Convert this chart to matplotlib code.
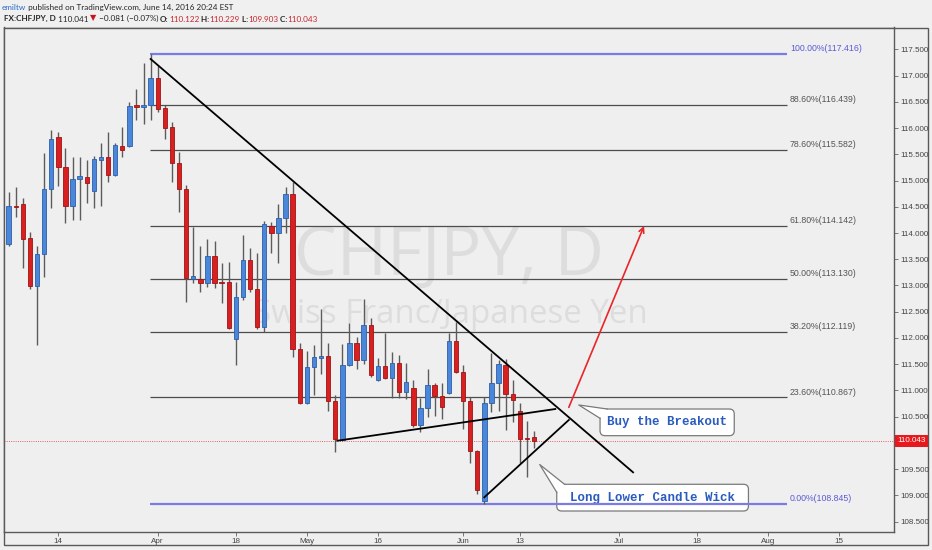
import matplotlib
matplotlib.use('Agg')
import matplotlib.pyplot as plt
import numpy as np
import pandas as pd
from matplotlib.patches import FancyBboxPatch, Polygon, Rectangle

# ---------------- data ----------------
start_date = '2016-03-03'
opens = [113.785, 114.52, 114.553, 113.899, 112.997, 113.594, 114.832, 115.823, 115.252, 114.521,
         115.023, 115.074, 114.807, 115.391, 115.455, 115.106, 115.664, 115.658, 116.43, 116.401,
         116.445, 116.960, 116.376, 116.014, 115.328, 114.832, 113.131, 113.118, 113.042, 113.563,
         113.06, 113.061, 111.975, 112.788, 113.486, 112.927, 112.204, 114.134, 113.994, 114.293,
         114.737, 111.790, 110.755, 111.454, 111.625, 111.663, 110.806, 110.057, 111.479, 111.911,
         111.581, 112.241, 111.200, 111.467, 111.244, 111.530, 110.965, 111.041, 110.343, 110.667,
         111.098, 110.895, 110.946, 111.943, 111.352, 110.806, 109.854, 108.901, 110.755, 111.136,
         111.486, 110.933, 110.616, 110.09, 110.122]
highs = [114.775, 114.87, 114.661, 114.026, 113.753, 115.518, 115.963, 115.918, 115.626, 115.455,
         115.455, 115.391, 115.468, 115.709, 115.918, 115.709, 116.014, 116.503, 116.750, 117.233,
         117.416, 117.182, 116.439, 116.122, 115.550, 114.915, 114.121, 113.753, 113.880, 113.855,
         113.423, 113.442, 113.061, 113.962, 113.709, 113.613, 114.236, 114.216, 114.553, 114.883,
         114.979, 111.911, 111.752, 111.867, 112.546, 111.911, 110.914, 111.879, 112.279, 112.025,
         112.737, 112.375, 111.613, 112.089, 111.740, 111.676, 111.517, 111.200, 110.851, 111.403,
         111.136, 111.136, 112.102, 112.298, 111.486, 110.882, 109.87, 110.882, 111.708, 111.581,
         111.600, 111.200, 110.768, 110.419, 110.229]
lows = [113.75, 114.30, 113.327, 112.927, 111.867, 113.169, 114.483, 114.902, 114.185, 114.248,
        114.248, 114.566, 114.483, 114.521, 114.979, 115.093, 115.455, 115.645, 116.153, 116.071,
        116.153, 116.312, 115.785, 114.979, 114.407, 112.692, 113.042, 112.870, 112.978, 112.946,
        112.661, 112.18, 111.485, 112.724, 112.883, 112.18, 112.121, 113.626, 113.423, 113.994,
        111.632, 110.743, 110.743, 110.914, 111.308, 110.616, 109.822, 110.044, 111.467, 111.403,
        111.505, 111.263, 111.187, 111.219, 110.863, 110.851, 110.838, 110.311, 110.203, 110.501,
        110.514, 110.451, 110.933, 111.340, 110.260, 109.625, 109.022, 108.845, 110.597, 110.616,
        110.247, 110.393, 109.612, 109.358, 109.903]
closes = [114.521, 114.50, 113.886, 112.997, 113.600, 114.832, 115.785, 115.252, 114.521, 115.029,
          115.087, 114.947, 115.404, 115.455, 115.106, 115.671, 115.582, 116.426, 116.41, 116.439,
          116.960, 116.357, 116.007, 115.328, 114.832, 113.137, 113.182, 113.042, 113.563, 113.042,
          113.05, 112.197, 112.788, 113.486, 112.927, 112.204, 114.166, 113.994, 114.293, 114.737,
          111.784, 110.755, 111.454, 111.632, 111.663, 110.806, 110.069, 111.479, 111.911, 111.581,
          112.241, 111.289, 111.467, 111.244, 111.530, 110.965, 111.162, 110.343, 110.667, 111.098,
          110.895, 110.679, 111.937, 111.352, 110.806, 109.854, 109.104, 110.755, 111.136, 111.498,
          110.933, 110.819, 110.082, 110.08, 110.043]

fib_pcts = ['100.00%', '88.60%', '78.60%', '61.80%', '50.00%', '38.20%', '23.60%', '0.00%']
fib_levels = [117.416, 116.439, 115.582, 114.142, 113.130, 112.119, 110.867, 108.845]
fib_start_end = [19.9, 109.6]

last_price = 110.043

tick_dates = ['2016-03-14', '2016-04-01', '2016-04-18', '2016-05-02', '2016-05-16', '2016-06-01',
              '2016-06-13', '2016-07-01', '2016-07-18', '2016-08-01', '2016-08-15']
tick_labels = ['14', 'Apr', '18', 'May', '16', 'Jun', '13', 'Jul', '18', 'Aug', '15']
price_ticks = [108.5, 109.0, 109.5, 110.5, 111.0, 111.5, 112.0, 112.5, 113.0, 113.5,
               114.0, 114.5, 115.0, 115.5, 116.0, 116.5, 117.0, 117.5]

down_trend_x = [20.0, 87.95]
down_trend_y = [117.315, 109.441]
support_x = [46.3, 77.0]
support_y = [110.043, 110.647]
rise_x = [67.0, 78.9]
rise_y = [108.965, 110.438]
arrow_x = [78.9, 89.5]
arrow_y = [110.679, 114.134]

# ---------------- figure ----------------
W, H = 932, 550
BG = '#f0f0f0'
fig = plt.figure(figsize=(W / 100, H / 100), dpi=100)
fig.patch.set_facecolor(BG)

L, R, T, B = 3.5, 894, 27.5, 532
ax = fig.add_axes([L / W, 1 - B / H, (R - L) / W, (B - T) / H])
ax.set_facecolor('#efefef')
ax.set_xlim(-0.72, 124.7)
ax.set_ylim(108.304, 117.915)
ASPECT = ((117.915 - 108.304) / (B - T)) / ((124.7 + 0.72) / (R - L))

# outer frame
fig.add_artist(Rectangle((3.5 / W, 1 - 545 / H), (928 - 3.5) / W, (545 - 27.5) / H,
                         transform=fig.transFigure, fill=True, fc='#efefef', ec='#5a5a5a',
                         lw=1.0, zorder=-5))

for sp in ax.spines.values():
    sp.set_color('#5a5a5a')
    sp.set_linewidth(1.0)

# watermark
ax.text(0.5003, 0.544, 'CHFJPY, D', transform=ax.transAxes, ha='center', va='center',
        fontsize=49, color='#dddddd', family='Open Sans', zorder=1)
ax.text(0.502, 0.431, 'Swiss Franc/Japanese Yen', transform=ax.transAxes, ha='center', va='center',
        fontsize=23.8, color='#dddddd', family='Open Sans', zorder=1)

# candles
o = np.array(opens); h = np.array(highs); lo = np.array(lows); c = np.array(closes)
x = np.arange(len(o))
up = c > o
fill = np.where(up, '#4a86d9', '#d92020')
edge = np.where(up, '#2d5fa8', '#a01414')
ax.vlines(x, lo, h, color='#5c5c5c', lw=1.0, zorder=3)
ax.bar(x, np.maximum(np.abs(c - o), 0.014), bottom=np.minimum(o, c), width=0.62,
       color=fill, edgecolor=edge, linewidth=0.6, zorder=4)

# fib levels
for pct, lv in zip(fib_pcts, fib_levels):
    edge_lv = pct in ('100.00%', '0.00%')
    col = '#7b7be6' if edge_lv else '#4d4d4d'
    ax.plot(fib_start_end, [lv, lv], color=col, lw=1.6 if edge_lv else 0.9, zorder=2.6,
            solid_capstyle='butt')
    ax.text(fib_start_end[1] + 0.45, lv + 0.012, f'{pct}({lv:.3f})', fontsize=6.3,
            color='#5b5bd6' if edge_lv else '#555555', va='bottom', ha='left',
            family='Liberation Sans', zorder=2.6)

# current price line
ax.axhline(last_price, color='#e06060', lw=0.7, ls=(0, (1, 1.3)), zorder=2.5)

# trend lines
ax.plot(down_trend_x, down_trend_y, color='black', lw=1.3, zorder=5)
ax.plot(support_x, support_y, color='black', lw=1.3, zorder=5)
ax.plot(rise_x, rise_y, color='black', lw=1.3, zorder=5)
ax.annotate('', xy=(arrow_x[1], arrow_y[1]), xytext=(arrow_x[0], arrow_y[0]),
            arrowprops=dict(arrowstyle='->', color='#e8262a', lw=1.2, shrinkA=0, shrinkB=0,
                            mutation_scale=9), zorder=5)


# callouts
def callout(x0, x1, y0, y1, tip, b1, b2, text):
    ax.add_patch(FancyBboxPatch((x0, y0), x1 - x0, y1 - y0,
                                boxstyle='round,pad=0,rounding_size=0.7',
                                mutation_aspect=ASPECT, fc='white', ec='#7a7a7a', lw=0.9,
                                zorder=2.2))
    ax.add_patch(Polygon([tip, b1, b2], closed=True, fc='white', ec='none', zorder=2.3))
    ax.plot([b1[0], tip[0], b2[0]], [b1[1], tip[1], b2[1]], color='#7a7a7a', lw=0.9,
            zorder=2.35)
    ax.text((x0 + x1) / 2, (y0 + y1) / 2, text, ha='center', va='center', fontsize=9,
            family='Liberation Mono', weight='bold', color='#2a5cbf', zorder=2.4)


callout(83.3, 102.2, 110.139, 110.647, (80.3, 110.724), (84.3, 110.647), (83.3, 110.47),
        'Buy the Breakout')
callout(77.2, 104.2, 108.704, 109.213, (74.8, 109.59), (78.3, 109.213), (77.2, 109.06),
        'Long Lower Candle Wick')

# axes ticks
dates = pd.bdate_range(start_date, periods=130)
tick_pos = dates.get_indexer(pd.to_datetime(tick_dates))
ax.set_xticks(tick_pos)
ax.set_xticklabels(tick_labels, fontsize=5.8, color='#444444', family='Liberation Sans')
ax.yaxis.tick_right()
ax.set_yticks(price_ticks)
ax.set_yticklabels([f'{v:.3f}' for v in price_ticks], fontsize=5.8, color='#444444',
                   family='Liberation Sans')
ax.tick_params(axis='both', direction='out', length=3, width=0.6, color='#666666', pad=1.5)

ax.annotate(f'{last_price:.3f}', xy=(1, last_price), xycoords=('axes fraction', 'data'),
            xytext=(2.2, 0), textcoords='offset points', ha='left', va='center', fontsize=5.8,
            color='white', family='Liberation Sans',
            bbox=dict(boxstyle='square,pad=0.3', fc='#e8191c', ec='none'),
            annotation_clip=False, zorder=10)


# header
def chain(pieces, x0, y0, size):
    prev = None
    for txt, col, wt, fam in pieces:
        kw = dict(color=col, weight=wt, family=fam, fontsize=size, va='bottom', ha='left')
        if prev is None:
            prev = fig.text(x0, y0, txt, **kw)
        else:
            prev = ax.annotate(txt, xy=(1, 0), xycoords=prev, xytext=(0, 0),
                               textcoords='offset points', annotation_clip=False, **kw)


FAM = ['Lato', 'DejaVu Sans']
RED = '#c8262d'
DARK = '#262626'
chain([('emiltw', '#2a6ac9', 'normal', FAM),
       (' published on TradingView.com, June 14, 2016 20:24 EST', DARK, 'normal', FAM)],
      2 / W, 1 - 11 / H, 5.9)
chain([('FX:CHFJPY, D', DARK, 'bold', FAM),
       (' 110.041 ', DARK, 'normal', FAM),
       ('▼', '#c8141c', 'normal', ['DejaVu Sans']),
       (' \u22120.081 (\u22120.07%) ', DARK, 'normal', FAM),
       ('O:', DARK, 'bold', FAM), ('110.122', RED, 'normal', FAM),
       (' H:', DARK, 'bold', FAM), ('110.229', RED, 'normal', FAM),
       (' L:', DARK, 'bold', FAM), ('109.903', RED, 'normal', FAM),
       (' C:', DARK, 'bold', FAM), ('110.043', RED, 'normal', FAM)],
      4 / W, 1 - 22.5 / H, 5.9)

fig.savefig('out.png', dpi=100, facecolor=fig.get_facecolor())
